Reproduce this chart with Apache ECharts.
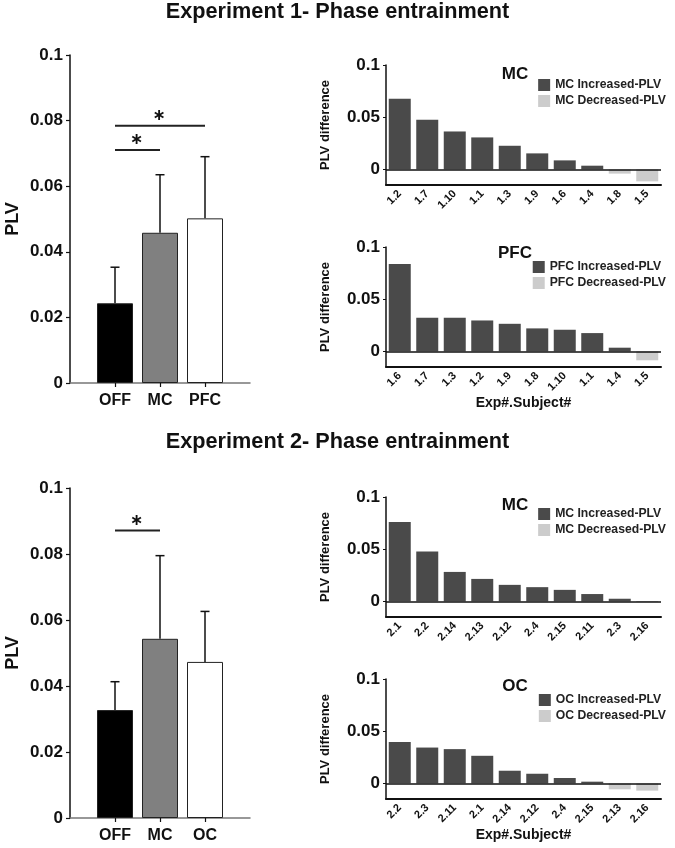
<!DOCTYPE html>
<html>
<head>
<meta charset="utf-8">
<script src="https://cdn.jsdelivr.net/npm/echarts@6/dist/echarts.min.js"></script>
<style>
html,body{margin:0;padding:0;background:#fff;}
#chart{width:675px;height:848px;}
</style>
</head>
<body>
<div id="chart"></div>
<script>
// ---------- DATA ----------
const exp1Groups = ['', 'OFF', 'MC', 'PFC', ''];
const exp1Mean   = [null, 0.0243, 0.0458, 0.0502, null];
const exp1ErrTop = [null, 0.0353, 0.0635, 0.0690, null];
const exp1Sig    = [[1, 2, 0.0710], [1, 3, 0.0784]];

const exp2Groups = ['', 'OFF', 'MC', 'OC', ''];
const exp2Mean   = [null, 0.0327, 0.0543, 0.0473, null];
const exp2ErrTop = [null, 0.0413, 0.0795, 0.0626, null];
const exp2Sig    = [[1, 2, 0.0871]];

const leftTicks = [0, 0.02, 0.04, 0.06, 0.08, 0.1];
const rightTicks = [0, 0.05, 0.1];

const mc1Subjects  = ['1.2','1.7','1.10','1.1','1.3','1.9','1.6','1.4','1.8','1.5'];
const mc1Diff      = [0.0676, 0.0475, 0.0363, 0.0306, 0.0226, 0.0153, 0.0086, 0.0035, -0.0041, -0.0115];
const pfc1Subjects = ['1.6','1.7','1.3','1.2','1.9','1.8','1.10','1.1','1.4','1.5'];
const pfc1Diff     = [0.0838, 0.0322, 0.0322, 0.0296, 0.0264, 0.0220, 0.0207, 0.0175, 0.0035, -0.0086];
const mc2Subjects  = ['2.1','2.2','2.14','2.13','2.12','2.4','2.15','2.11','2.3','2.16'];
const mc2Diff      = [0.0760, 0.0478, 0.0282, 0.0215, 0.0158, 0.0136, 0.0110, 0.0070, 0.0025, 0.0003];
const oc2Subjects  = ['2.2','2.3','2.11','2.1','2.14','2.12','2.4','2.15','2.13','2.16'];
const oc2Diff      = [0.0397, 0.0343, 0.0328, 0.0264, 0.0121, 0.0092, 0.0051, 0.0016, -0.0057, -0.0070];

// ---------- STYLE ----------
const FONT = "'Liberation Sans', Arial, sans-serif";
const groupFill = ['#000000', '#808080', '#ffffff'];
const incColor = '#4a4a4a';
const decColor = '#cccccc';

const grids = [
  {left: 70,  top: 55,  width: 180, height: 328},
  {left: 386, top: 65,  width: 275, height: 120},
  {left: 386, top: 247, width: 275, height: 120},
  {left: 70,  top: 488, width: 180, height: 330},
  {left: 386, top: 497, width: 275, height: 120},
  {left: 386, top: 679, width: 275, height: 120}
];

const xAxes = [];
const yAxes = [];
const series = [];
const legends = [];
const titles = [
  {text: 'Experiment 1- Phase entrainment', left: 'center', top: 1, padding: 0,
   textStyle: {fontFamily: FONT, fontSize: 21.7, fontWeight: 'bold', color: '#111'}},
  {text: 'Experiment 2- Phase entrainment', left: 'center', top: 431, padding: 0,
   textStyle: {fontFamily: FONT, fontSize: 21.7, fontWeight: 'bold', color: '#111'}}
];

function addLeft(gi, groups, mean, errTop, sig) {
  xAxes.push({
    gridIndex: gi, type: 'category', data: groups, boundaryGap: false,
    axisLine: {lineStyle: {color: '#777', width: 1.5}},
    axisTick: {interval: (i) => i > 0 && i < groups.length - 1, length: 4, lineStyle: {color: '#111', width: 1.2}},
    axisLabel: {interval: 0, fontFamily: FONT, fontSize: 16, fontWeight: 'bold', color: '#111', margin: 10},
    splitLine: {show: false}
  });
  yAxes.push({
    gridIndex: gi, type: 'value', min: 0, max: 0.1, interval: 0.02,
    axisLine: {show: true, lineStyle: {color: '#111', width: 1.5}},
    axisTick: {show: true, length: 4, lineStyle: {color: '#111', width: 1.2}},
    axisLabel: {fontFamily: FONT, fontSize: 17, fontWeight: 'bold', color: '#111', margin: 7,
                formatter: (v) => String(+v.toFixed(3))},
    splitLine: {show: false},
    name: 'PLV', nameLocation: 'middle', nameGap: 48,
    nameTextStyle: {fontFamily: FONT, fontSize: 18, fontWeight: 'bold', color: '#111'}
  });
  const ai = xAxes.length - 1;
  series.push({
    type: 'bar', xAxisIndex: ai, yAxisIndex: ai, barWidth: 36, silent: true,
    data: mean.map((v, i) => v === null ? '-' : {
      value: v,
      itemStyle: {color: groupFill[i - 1], borderColor: '#222', borderWidth: 1}
    })
  });
  const errData = [];
  mean.forEach((v, i) => { if (v !== null) errData.push([i, v, errTop[i]]); });
  series.push({
    type: 'custom', xAxisIndex: ai, yAxisIndex: ai, silent: true,
    encode: {x: 0, y: [1, 2]},
    data: errData,
    renderItem: (params, api) => {
      const b = api.coord([api.value(0), api.value(1)]);
      const t = api.coord([api.value(0), api.value(2)]);
      const st = {stroke: '#111', lineWidth: 1.5};
      return {type: 'group', children: [
        {type: 'line', shape: {x1: b[0], y1: b[1], x2: t[0], y2: t[1]}, style: st},
        {type: 'line', shape: {x1: t[0] - 4.5, y1: t[1], x2: t[0] + 4.5, y2: t[1]}, style: st}
      ]};
    }
  });
  series.push({
    type: 'custom', xAxisIndex: ai, yAxisIndex: ai, silent: true,
    encode: {x: [0, 1], y: 2},
    data: sig,
    renderItem: (params, api) => {
      const a = api.coord([api.value(0), api.value(2)]);
      const c = api.coord([api.value(1), api.value(2)]);
      return {type: 'group', children: [
        {type: 'line', shape: {x1: a[0], y1: a[1], x2: c[0], y2: c[1]}, style: {stroke: '#222', lineWidth: 2}},
        {type: 'text', style: {text: '∗', x: (a[0] + c[0]) / 2 - 1, y: a[1] - 10,
          align: 'center', verticalAlign: 'middle', fill: '#111',
          font: "bold 16px 'DejaVu Sans'"}}
      ]};
    }
  });
}

function addRight(gi, region, subjects, diffs, showXName, titleTop, legendTop) {
  const incName = region + ' Increased-PLV';
  const decName = region + ' Decreased-PLV';
  xAxes.push({
    gridIndex: gi, type: 'category', data: subjects,
    axisLine: {onZero: false, lineStyle: {color: '#111', width: 2}},
    axisTick: {alignWithLabel: true, length: 4, lineStyle: {color: '#111', width: 1.2}},
    axisLabel: {interval: 0, rotate: 45, fontFamily: FONT, fontSize: 11, fontWeight: 'bold', color: '#111', margin: 7},
    name: showXName ? 'Exp#.Subject#' : '', nameLocation: 'middle', nameGap: 28,
    nameTextStyle: {fontFamily: FONT, fontSize: 14, fontWeight: 'bold', color: '#111'}
  });
  yAxes.push({
    gridIndex: gi, type: 'value', min: -0.015, max: 0.1,
    axisLine: {show: true, lineStyle: {color: '#111', width: 1.5}},
    axisTick: {show: true, length: 3, customValues: rightTicks, lineStyle: {color: '#111'}},
    axisLabel: {customValues: rightTicks, fontFamily: FONT, fontSize: 17, fontWeight: 'bold', color: '#111', margin: 6,
                formatter: (v) => String(+(+v).toFixed(3))},
    splitLine: {show: false},
    name: 'PLV difference', nameLocation: 'middle', nameGap: 54,
    nameTextStyle: {fontFamily: FONT, fontSize: 13, fontWeight: 'bold', color: '#111'}
  });
  const ai = xAxes.length - 1;
  series.push({
    name: incName, type: 'bar', stack: 'd' + gi, xAxisIndex: ai, yAxisIndex: ai,
    barCategoryGap: '20%', itemStyle: {color: incColor}, silent: true,
    data: diffs.map(v => v >= 0 ? v : '-'),
    markLine: {silent: true, symbol: 'none', label: {show: false},
      lineStyle: {color: '#111', width: 1.5, type: 'solid'}, data: [{yAxis: 0}]}
  });
  series.push({
    name: decName, type: 'bar', stack: 'd' + gi, xAxisIndex: ai, yAxisIndex: ai,
    barCategoryGap: '20%', itemStyle: {color: decColor}, silent: true,
    data: diffs.map(v => v < 0 ? v : '-')
  });
  titles.push({text: region, left: 510, top: titleTop, textAlign: 'center',
    textStyle: {fontFamily: FONT, fontSize: 17, fontWeight: 'bold', color: '#111'}});
  legends.push({
    data: [incName, decName], orient: 'vertical', right: 9, top: legendTop, padding: 0,
    icon: 'rect', itemWidth: 12, itemHeight: 12, itemGap: 4, selectedMode: false,
    textStyle: {fontFamily: FONT, fontSize: 12.2, fontWeight: 'bold', color: '#222'}
  });
}

addLeft(0, exp1Groups, exp1Mean, exp1ErrTop, exp1Sig);
addRight(1, 'MC', mc1Subjects, mc1Diff, false, 61, 79);
addRight(2, 'PFC', pfc1Subjects, pfc1Diff, true, 240, 261);
addLeft(3, exp2Groups, exp2Mean, exp2ErrTop, exp2Sig);
addRight(4, 'MC', mc2Subjects, mc2Diff, false, 492, 508);
addRight(5, 'OC', oc2Subjects, oc2Diff, true, 673, 694);

const chart = echarts.init(document.getElementById('chart'), null, {renderer: 'canvas'});
chart.setOption({
  animation: false,
  backgroundColor: '#fff',
  title: titles,
  legend: legends,
  grid: grids,
  xAxis: xAxes,
  yAxis: yAxes,
  series: series
});
</script>
</body>
</html>
